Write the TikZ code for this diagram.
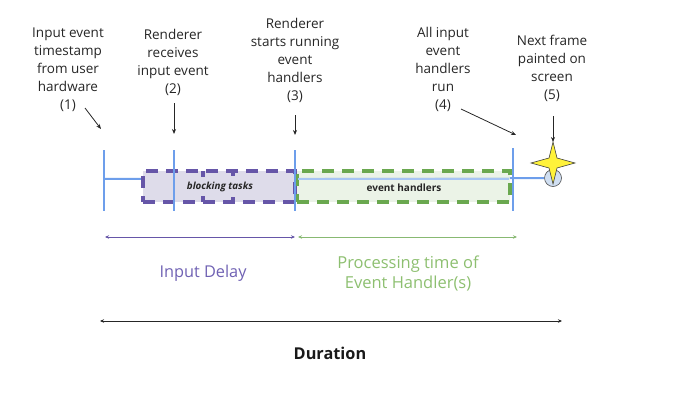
\documentclass[tikz,border=0pt]{standalone}
\usepackage{fontspec}
\setmainfont{Open Sans}
\usetikzlibrary{arrows.meta}
\definecolor{tickblue}{HTML}{6D9EEB}
\definecolor{purp}{HTML}{6656A8}
\definecolor{purpfill}{HTML}{DEDCEA}
\definecolor{grn}{HTML}{6AA84F}
\definecolor{grnfill}{HTML}{E8F1E3}
\definecolor{delaytext}{HTML}{6F61B3}
\definecolor{proctext}{HTML}{8DBF70}
\definecolor{staryellow}{HTML}{FFF23A}
\definecolor{circfill}{HTML}{D0DFF2}
\tikzset{
  lbl/.style={align=center, font=\fontsize{13.5}{18}\selectfont, inner sep=0pt, text=black!85},
  tickline/.style={draw=tickblue, line width=2.6pt},
  pointer/.style={draw=black!85, line width=0.8pt, -{Stealth[length=5pt,width=4pt]}},
  dashline/.style={line width=3.2pt, dash pattern=on 12pt off 8pt},
  pbox/.style={dashline, draw=purp, fill=purpfill},
  gbox/.style={dashline, draw=grn, fill=grnfill, fill opacity=0.85},
  span/.style={line width=0.8pt, {Stealth[length=4pt,width=3.5pt]}-{Stealth[length=4pt,width=3.5pt]}},
}
\begin{document}
\begin{tikzpicture}[x=1pt,y=-1pt]
\useasboundingbox (0,0) rectangle (682,404);
% tick coordinates
\coordinate (t1top) at (104,150); \coordinate (t1bot) at (104,211);
\coordinate (t2top) at (174,150); \coordinate (t2bot) at (174,211);
\coordinate (t3top) at (295,150); \coordinate (t3bot) at (295,211);
\coordinate (t4top) at (513,148); \coordinate (t4bot) at (513,211);
% timeline
\node[circle, draw=black!70, fill=circfill, line width=0.6pt, minimum size=17pt, inner sep=0pt] (paint) at (553,178) {};
\draw[draw=tickblue, line width=2pt] (104,179) -- (paint.west);
% boxes
\node[pbox, minimum width=152pt, minimum height=31pt, inner sep=0pt] (block) at (219,186.5) {};
\draw[purp, line width=3.2pt] (203,171) -- (203,177) (203,196) -- (203,202)
  (233,171) -- (233,176) (233,197) -- (233,202);
\node[font=\fontsize{9.8}{11}\selectfont\bfseries\itshape, text=black!85] (blocktxt) at (220,187) {blocking tasks};
\node[gbox, minimum width=213pt, minimum height=31pt, inner sep=0pt] (handlers) at (403.5,186.5) {};
\draw[draw=tickblue!60, line width=1.5pt] (298,179) -- (509,179);
\node[font=\fontsize{10}{11}\selectfont\bfseries, text=black!85] (handtxt) at (404,188) {event handlers};
% ticks
\draw[tickline] (t1top) -- (t1bot);
\draw[tickline] (t2top) -- (t2bot);
\draw[tickline] (t3top) -- (t3bot);
\draw[tickline] (t4top) -- (t4bot);
% star
\filldraw[fill=staryellow, draw=black!75, line width=0.6pt]
  (553,142) -- (557,158) -- (575,163) -- (557,168) -- (553,184) -- (549,168) -- (531,163) -- (549,158) -- cycle;
% labels
\node[lbl] (l1) at (68,69.5) {Input event\\timestamp\\from user\\hardware\\(1)};
\node[lbl] (l2) at (173,62.5) {Renderer\\receives\\input event\\(2)};
\node[lbl] (l3) at (295,60.5) {Renderer\\starts running\\event\\handlers\\(3)};
\node[lbl] (l4) at (443,69.5) {All input\\event\\handlers\\run\\(4)};
\node[lbl] (l5) at (552,68) {Next frame\\painted on\\screen\\(5)};
% pointers
\coordinate (p1s) at (85,108); \coordinate (p1e) at (101,129);
\coordinate (p2s) at (174,103); \coordinate (p2e) at (174,134);
\coordinate (p3s) at (295,115); \coordinate (p3e) at (295,135);
\coordinate (p4s) at (461,109); \coordinate (p4e) at (516,135);
\coordinate (p5s) at (553,116); \coordinate (p5e) at (553,142);
\draw[pointer] (p1s) -- (p1e);
\draw[pointer] (p2s) -- (p2e);
\draw[pointer] (p3s) -- (p3e);
\draw[pointer] (p4s) -- (p4e);
\draw[pointer] (p5s) -- (p5e);
% spans
\coordinate (d1) at (105,237); \coordinate (d2) at (295,237);
\coordinate (g1) at (298,237); \coordinate (g2) at (517,237);
\coordinate (u1) at (100,321); \coordinate (u2) at (562,321);
\draw[span, purp] (d1) -- (d2);
\draw[span, grn!80] (g1) -- (g2);
\draw[span, black!85] (u1) -- (u2);
\node[font=\fontsize{16.3}{18}\selectfont, text=delaytext] (delay) at (203,273) {Input Delay};
\node[font=\fontsize{16.5}{20}\selectfont, text=proctext, align=center] (proc) at (408,273) {Processing time of\\Event Handler(s)};
\node[font=\fontsize{16.3}{18}\selectfont\bfseries, text=black!90] (dur) at (330,353) {Duration};
\end{tikzpicture}
\end{document}
